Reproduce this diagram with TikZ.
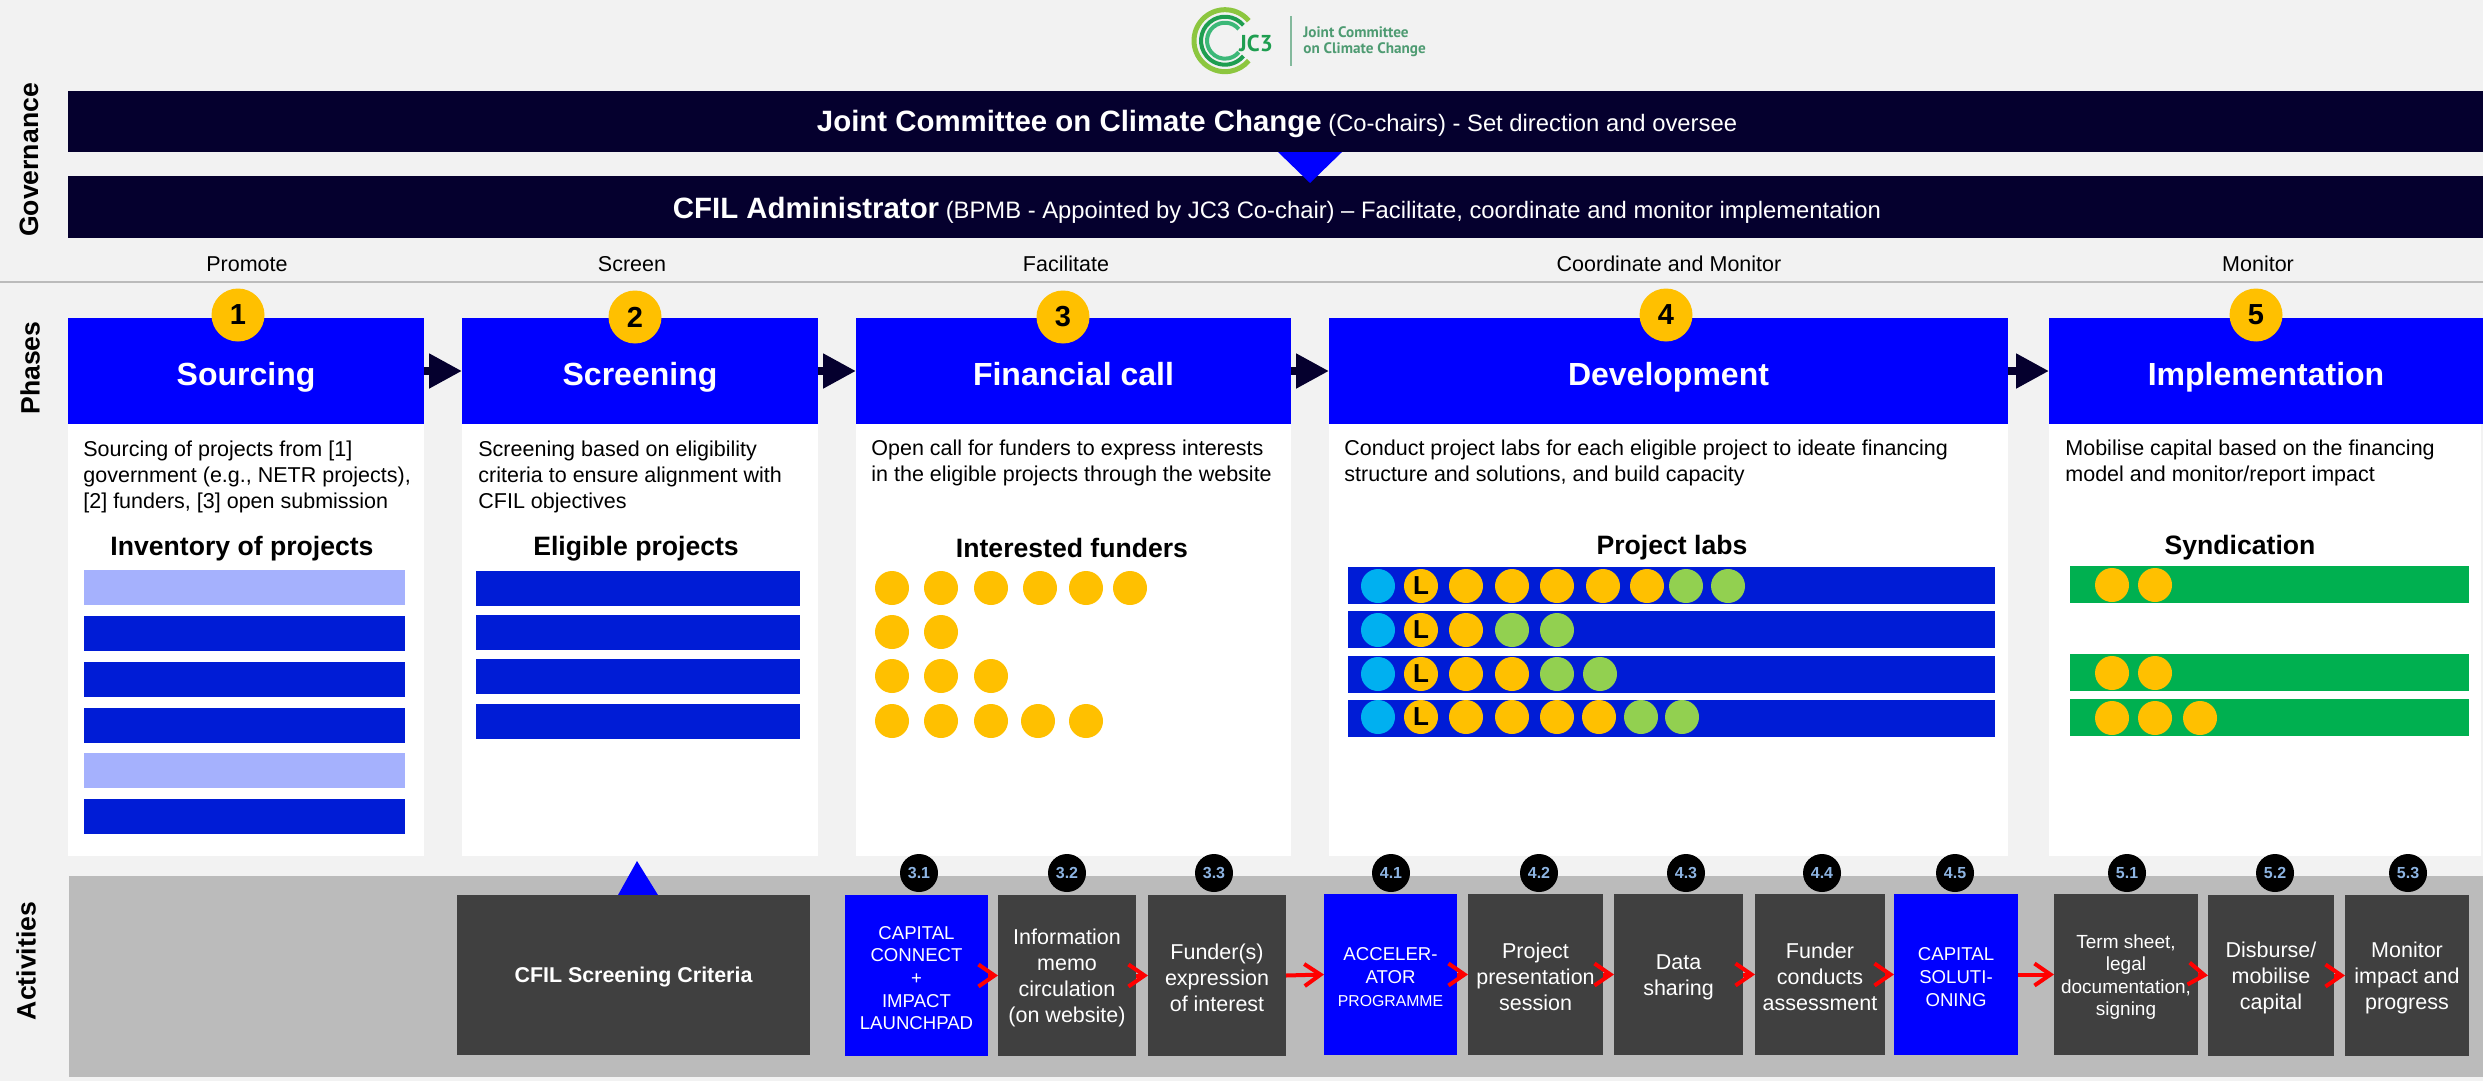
\documentclass[tikz,border=0pt]{standalone}
\usepackage{fontspec}
\setmainfont{Liberation Sans}
\newfontfamily\logofont{PT Sans}
\usetikzlibrary{arrows.meta}
\definecolor{bgc}{HTML}{F2F2F2}
\definecolor{navy}{HTML}{05002E}
\definecolor{pureblue}{HTML}{0000FF}
\definecolor{barblue}{HTML}{001CD6}
\definecolor{lightbar}{HTML}{A5B1FD}
\definecolor{gold}{HTML}{FFC000}
\definecolor{skyc}{HTML}{00B0F0}
\definecolor{lgreen}{HTML}{92D050}
\definecolor{synd}{HTML}{00B050}
\definecolor{darkbox}{HTML}{404040}
\definecolor{band}{HTML}{BBBBBB}
\definecolor{numc}{HTML}{8DB4E2}
\definecolor{logoa}{HTML}{8CC63F}
\definecolor{logob}{HTML}{1E9E50}
\definecolor{logoc}{HTML}{3CB878}
\definecolor{logot}{HTML}{4E9B72}
\newcommand\fz[2]{\fontsize{#1}{#2}\selectfont}
\newcommand\Bx[7]{\node[rbox,#6,minimum width={(#4-#2)*0.5pt},minimum height={(#5-#3)*0.5pt}] (#1) at ({(#2+#4)/2},{(#3+#5)/2}) {#7};}
\newcommand\Bt[7]{\Bx{#1}{#2}{#3}{#4}{#5}{#6}{}\node[rbox,#6,fill=none,yshift=-1.25pt] (#1t) at (#1.center) {#7};}
\tikzset{
  rbox/.style={draw=none,inner sep=0pt,outer sep=0pt,align=center,text=white},
  govbar/.style={fill=navy},
  headbox/.style={fill=pureblue,font=\fz{16}{18}\bfseries,text height=14pt,text depth=0pt},
  panelbox/.style={fill=white},
  invbar/.style={fill=barblue},
  paleinv/.style={fill=lightbar},
  labbar/.style={fill=barblue},
  syndbar/.style={fill=synd},
  actbox/.style={fill=darkbox,font=\fz{10.75}{12.9}},
  capbox/.style={fill=pureblue,font=\fz{9.3}{11.3}},
  sidelabel/.style={rotate=90,font=\fz{13.3}{15}\bfseries,text=black,inner sep=0pt},
  phaselabel/.style={font=\fz{10.75}{12},text=black,inner sep=0pt},
  desc/.style={anchor=west,align=left,font=\fz{10.75}{13},text=black,inner sep=0pt},
  subhead/.style={font=\fz{13.3}{15}\bfseries,text=black,inner sep=0pt},
  bigdot/.style={circle,fill=gold,minimum size=26.5pt,inner sep=0pt,font=\fz{14.5}{16}\bfseries,text=black},
  dot/.style={circle,minimum size=17pt,inner sep=0pt,font=\fz{13}{15}\bfseries,text=black},
  numdot/.style={circle,fill=black,minimum size=19pt,inner sep=0pt,font=\fz{8}{10}\bfseries,text=numc},
  darrow/.style={draw=navy,line width=4pt,-{Triangle[length=16.5pt,width=16.5pt]},shorten <=0pt},
  rarrow/.style={draw=red,line width=2pt,-{Straight Barb[length=8pt,width=11pt]}}
}
\begin{document}
\begin{tikzpicture}[x=0.5pt,y=-0.5pt]
\useasboundingbox (0,0) rectangle (2483,1081);
\fill[bgc] (0,0) rectangle (2483,1081);
% logo
\draw[logoa,line width=2.5pt] ({1225+31*cos(40)},{40.7-31*sin(40)}) arc[start angle=40,end angle=320,radius=15.5pt];
\draw[logob,line width=2pt] ({1225+24*cos(40)},{40.7-24*sin(40)}) arc[start angle=40,end angle=320,radius=12pt];
\draw[logoc,line width=2pt] ({1225+18*cos(40)},{40.7-18*sin(40)}) arc[start angle=40,end angle=320,radius=9pt];
\node[inner sep=0pt,text=logob,font=\logofont\fz{11.5}{13}\bfseries] (logojc) at (1256,43) {JC3};
\draw[logot!70,line width=0.8pt] (1291,16) -- (1291,66);
\node[inner sep=0pt,anchor=west,align=left,text=logot,font=\logofont\fz{7.6}{8}\bfseries] (logotx) at (1303,42) {Joint Committee\\on Climate Change};
% governance
\Bx{gov1}{68}{91}{2483}{152}{govbar}{}
\Bx{gov2}{68}{176}{2483}{238}{govbar}{}
\fill[pureblue] (1278,152) -- (1342,152) -- (1310,183) -- cycle;
\node[inner sep=0pt,text=white] (gov1t) at (1277,123.5) {\fz{14.7}{16}\bfseries Joint Committee on Climate Change\fz{11.9}{14}\mdseries{} (Co-chairs) - Set direction and oversee};
\node[inner sep=0pt,text=white] (gov2t) at (1277,210.5) {\fz{14.7}{16}\bfseries CFIL Administrator\fz{11.9}{14}\mdseries{} (BPMB - Appointed by JC3 Co-chair) – Facilitate, coordinate and monitor implementation};
\node[sidelabel] (lgov) at (29,160) {Governance};
\node[sidelabel] (lpha) at (30,368) {Phases};
\node[sidelabel] (lact) at (26,961) {Activities};
% phase labels
\node[phaselabel] (p1) at (247,264) {Promote};
\node[phaselabel] (p2) at (632,264) {Screen};
\node[phaselabel] (p3) at (1066,264) {Facilitate};
\node[phaselabel] (p4) at (1669,264) {Coordinate and Monitor};
\node[phaselabel] (p5) at (2258,264) {Monitor};
\draw[band,line width=1pt] (0,282) -- (2483,282);
% panels
\Bx{w1}{68}{424}{424}{856}{panelbox}{}
\Bx{w2}{462}{424}{818}{856}{panelbox}{}
\Bx{w3}{856}{424}{1291}{856}{panelbox}{}
\Bx{w4}{1329}{424}{2008}{856}{panelbox}{}
\Bx{w5}{2049}{424}{2481}{856}{panelbox}{}
% heads
\Bx{h1}{68}{318}{424}{424}{headbox}{Sourcing}
\Bx{h2}{462}{318}{818}{424}{headbox}{Screening}
\Bx{h3}{856}{318}{1291}{424}{headbox}{Financial call}
\Bx{h4}{1329}{318}{2008}{424}{headbox}{Development}
\Bx{h5}{2049}{318}{2483}{424}{headbox}{Implementation}
\draw[darrow] (h1.east) -- (h2.west);
\draw[darrow] (h2.east) -- (h3.west);
\draw[darrow] (h3.east) -- (h4.west);
\draw[darrow] (h4.east) -- (h5.west);
\node[bigdot] (n1) at (238,315) {1};
\node[bigdot] (n2) at (635,317) {2};
\node[bigdot] (n3) at (1063,317) {3};
\node[bigdot] (n4) at (1666,315) {4};
\node[bigdot] (n5) at (2256,315) {5};
% descriptions
\node[desc] (d1) at (83,477) {Sourcing of projects from [1]\\government (e.g., NETR projects),\\{}[2] funders, [3] open submission};
\node[desc] (d2) at (478,477) {Screening based on eligibility\\criteria to ensure alignment with\\CFIL objectives};
\node[desc] (d3) at (871,463) {Open call for funders to express interests\\in the eligible projects through the website};
\node[desc] (d4) at (1344,463) {Conduct project labs for each eligible project to ideate financing\\structure and solutions, and build capacity};
\node[desc] (d5) at (2065,463) {Mobilise capital based on the financing\\model and monitor/report impact};
% subheads
\node[subhead] (s1) at (242,549) {Inventory of projects};
\node[subhead] (s2) at (636,549) {Eligible projects};
\node[subhead] (s3) at (1072,548) {Interested funders};
\node[subhead] (s4) at (1672,548) {Project labs};
\node[subhead] (s5) at (2240,548) {Syndication};
% inventory
\Bx{i1}{84}{570}{405}{605}{paleinv}{}
\Bx{i2}{84}{616}{405}{651}{invbar}{}
\Bx{i3}{84}{662}{405}{697}{invbar}{}
\Bx{i4}{84}{708}{405}{743}{invbar}{}
\Bx{i5}{84}{753}{405}{788}{paleinv}{}
\Bx{i6}{84}{799}{405}{834}{invbar}{}
% eligible
\Bx{e1}{476}{571}{800}{606}{invbar}{}
\Bx{e2}{476}{615}{800}{650}{invbar}{}
\Bx{e3}{476}{659}{800}{694}{invbar}{}
\Bx{e4}{476}{704}{800}{739}{invbar}{}
% funders
\foreach \x [count=\i] in {892,941,991,1040,1086,1130} \node[dot,fill=gold] (fa\i) at (\x,588) {};
\foreach \x [count=\i] in {892,941} \node[dot,fill=gold] (fb\i) at (\x,632) {};
\foreach \x [count=\i] in {892,941,991} \node[dot,fill=gold] (fc\i) at (\x,676) {};
\foreach \x [count=\i] in {892,941,991,1038,1086} \node[dot,fill=gold] (fd\i) at (\x,721) {};
% labs
\Bx{l1}{1348}{567}{1995}{604}{labbar}{}
\Bx{l2}{1348}{611}{1995}{648}{labbar}{}
\Bx{l3}{1348}{656}{1995}{693}{labbar}{}
\Bx{l4}{1348}{700}{1995}{737}{labbar}{}
\foreach \y/\r in {586/a,630/b,674/c,717/d}{
  \node[dot,fill=skyc] (sk\r) at (1378,\y) {};
  \node[dot,fill=gold] (ld\r) at (1421,\y) {L};
}
\foreach \x/\c [count=\i] in {1466/gold,1512/gold,1557/gold,1603/gold,1647/gold,1686/lgreen,1728/lgreen} \node[dot,fill=\c] (ra\i) at (\x,586) {};
\foreach \x/\c [count=\i] in {1466/gold,1512/lgreen,1557/lgreen} \node[dot,fill=\c] (rb\i) at (\x,630) {};
\foreach \x/\c [count=\i] in {1466/gold,1512/gold,1557/lgreen,1600/lgreen} \node[dot,fill=\c] (rc\i) at (\x,674) {};
\foreach \x/\c [count=\i] in {1466/gold,1512/gold,1557/gold,1599/gold,1641/lgreen,1682/lgreen} \node[dot,fill=\c] (rd\i) at (\x,717) {};
% syndication
\Bx{y1}{2070}{566}{2469}{603}{syndbar}{}
\Bx{y2}{2070}{654}{2469}{691}{syndbar}{}
\Bx{y3}{2070}{699}{2469}{736}{syndbar}{}
\foreach \x [count=\i] in {2112,2155} \node[dot,fill=gold] (ya\i) at (\x,585) {};
\foreach \x [count=\i] in {2112,2155} \node[dot,fill=gold] (yb\i) at (\x,673) {};
\foreach \x [count=\i] in {2112,2155,2200} \node[dot,fill=gold] (yc\i) at (\x,718) {};
% activities
\Bx{bandbox}{69}{876}{2483}{1077}{fill=band}{}
\fill[pureblue] (618,895) -- (658,895) -- (637,861) -- cycle;
\Bt{crit}{457}{895}{810}{1055}{actbox,font=\fz{10.7}{12.6}\bfseries}{CFIL Screening Criteria}
\Bt{a31}{845}{895}{988}{1056}{capbox}{CAPITAL\\CONNECT\\+\\IMPACT\\LAUNCHPAD}
\Bt{a32}{998}{895}{1136}{1056}{actbox}{Information\\memo\\circulation\\(on website)}
\Bt{a33}{1148}{895}{1286}{1056}{actbox}{Funder(s)\\expression\\of interest}
\Bt{a41}{1324}{894}{1457}{1055}{capbox}{ACCELER-\\ATOR\\{\fz{7.9}{11.3}PROGRAMME}}
\Bt{a42}{1468}{894}{1603}{1055}{actbox}{Project\\presentation\\session}
\Bt{a43}{1614}{894}{1743}{1055}{actbox}{Data\\sharing}
\Bt{a44}{1755}{894}{1885}{1055}{actbox}{Funder\\conducts\\assessment}
\Bt{a45}{1894}{894}{2018}{1055}{capbox}{CAPITAL\\SOLUTI-\\ONING}
\Bt{a51}{2054}{894}{2198}{1055}{actbox,font=\fz{9.5}{11.2}}{Term sheet,\\legal\\documentation,\\signing}
\Bt{a52}{2208}{895}{2334}{1056}{actbox}{Disburse/\\mobilise\\capital}
\Bt{a53}{2345}{895}{2469}{1056}{actbox}{Monitor\\impact and\\progress}
\foreach \u/\v in {a31/a32,a32/a33,a33/a41,a41/a42,a42/a43,a43/a44,a44/a45,a45/a51,a51/a52,a52/a53}
  \draw[rarrow] (\u.east) -- (\v.west);
\foreach \x/\t [count=\i] in {919/3.1,1067/3.2,1214/3.3,1391/4.1,1539/4.2,1686/4.3,1822/4.4,1955/4.5,2127/5.1,2275/5.2,2408/5.3}
  \node[numdot] (num\i) at (\x,873) {\t};
\end{tikzpicture}
\end{document}
